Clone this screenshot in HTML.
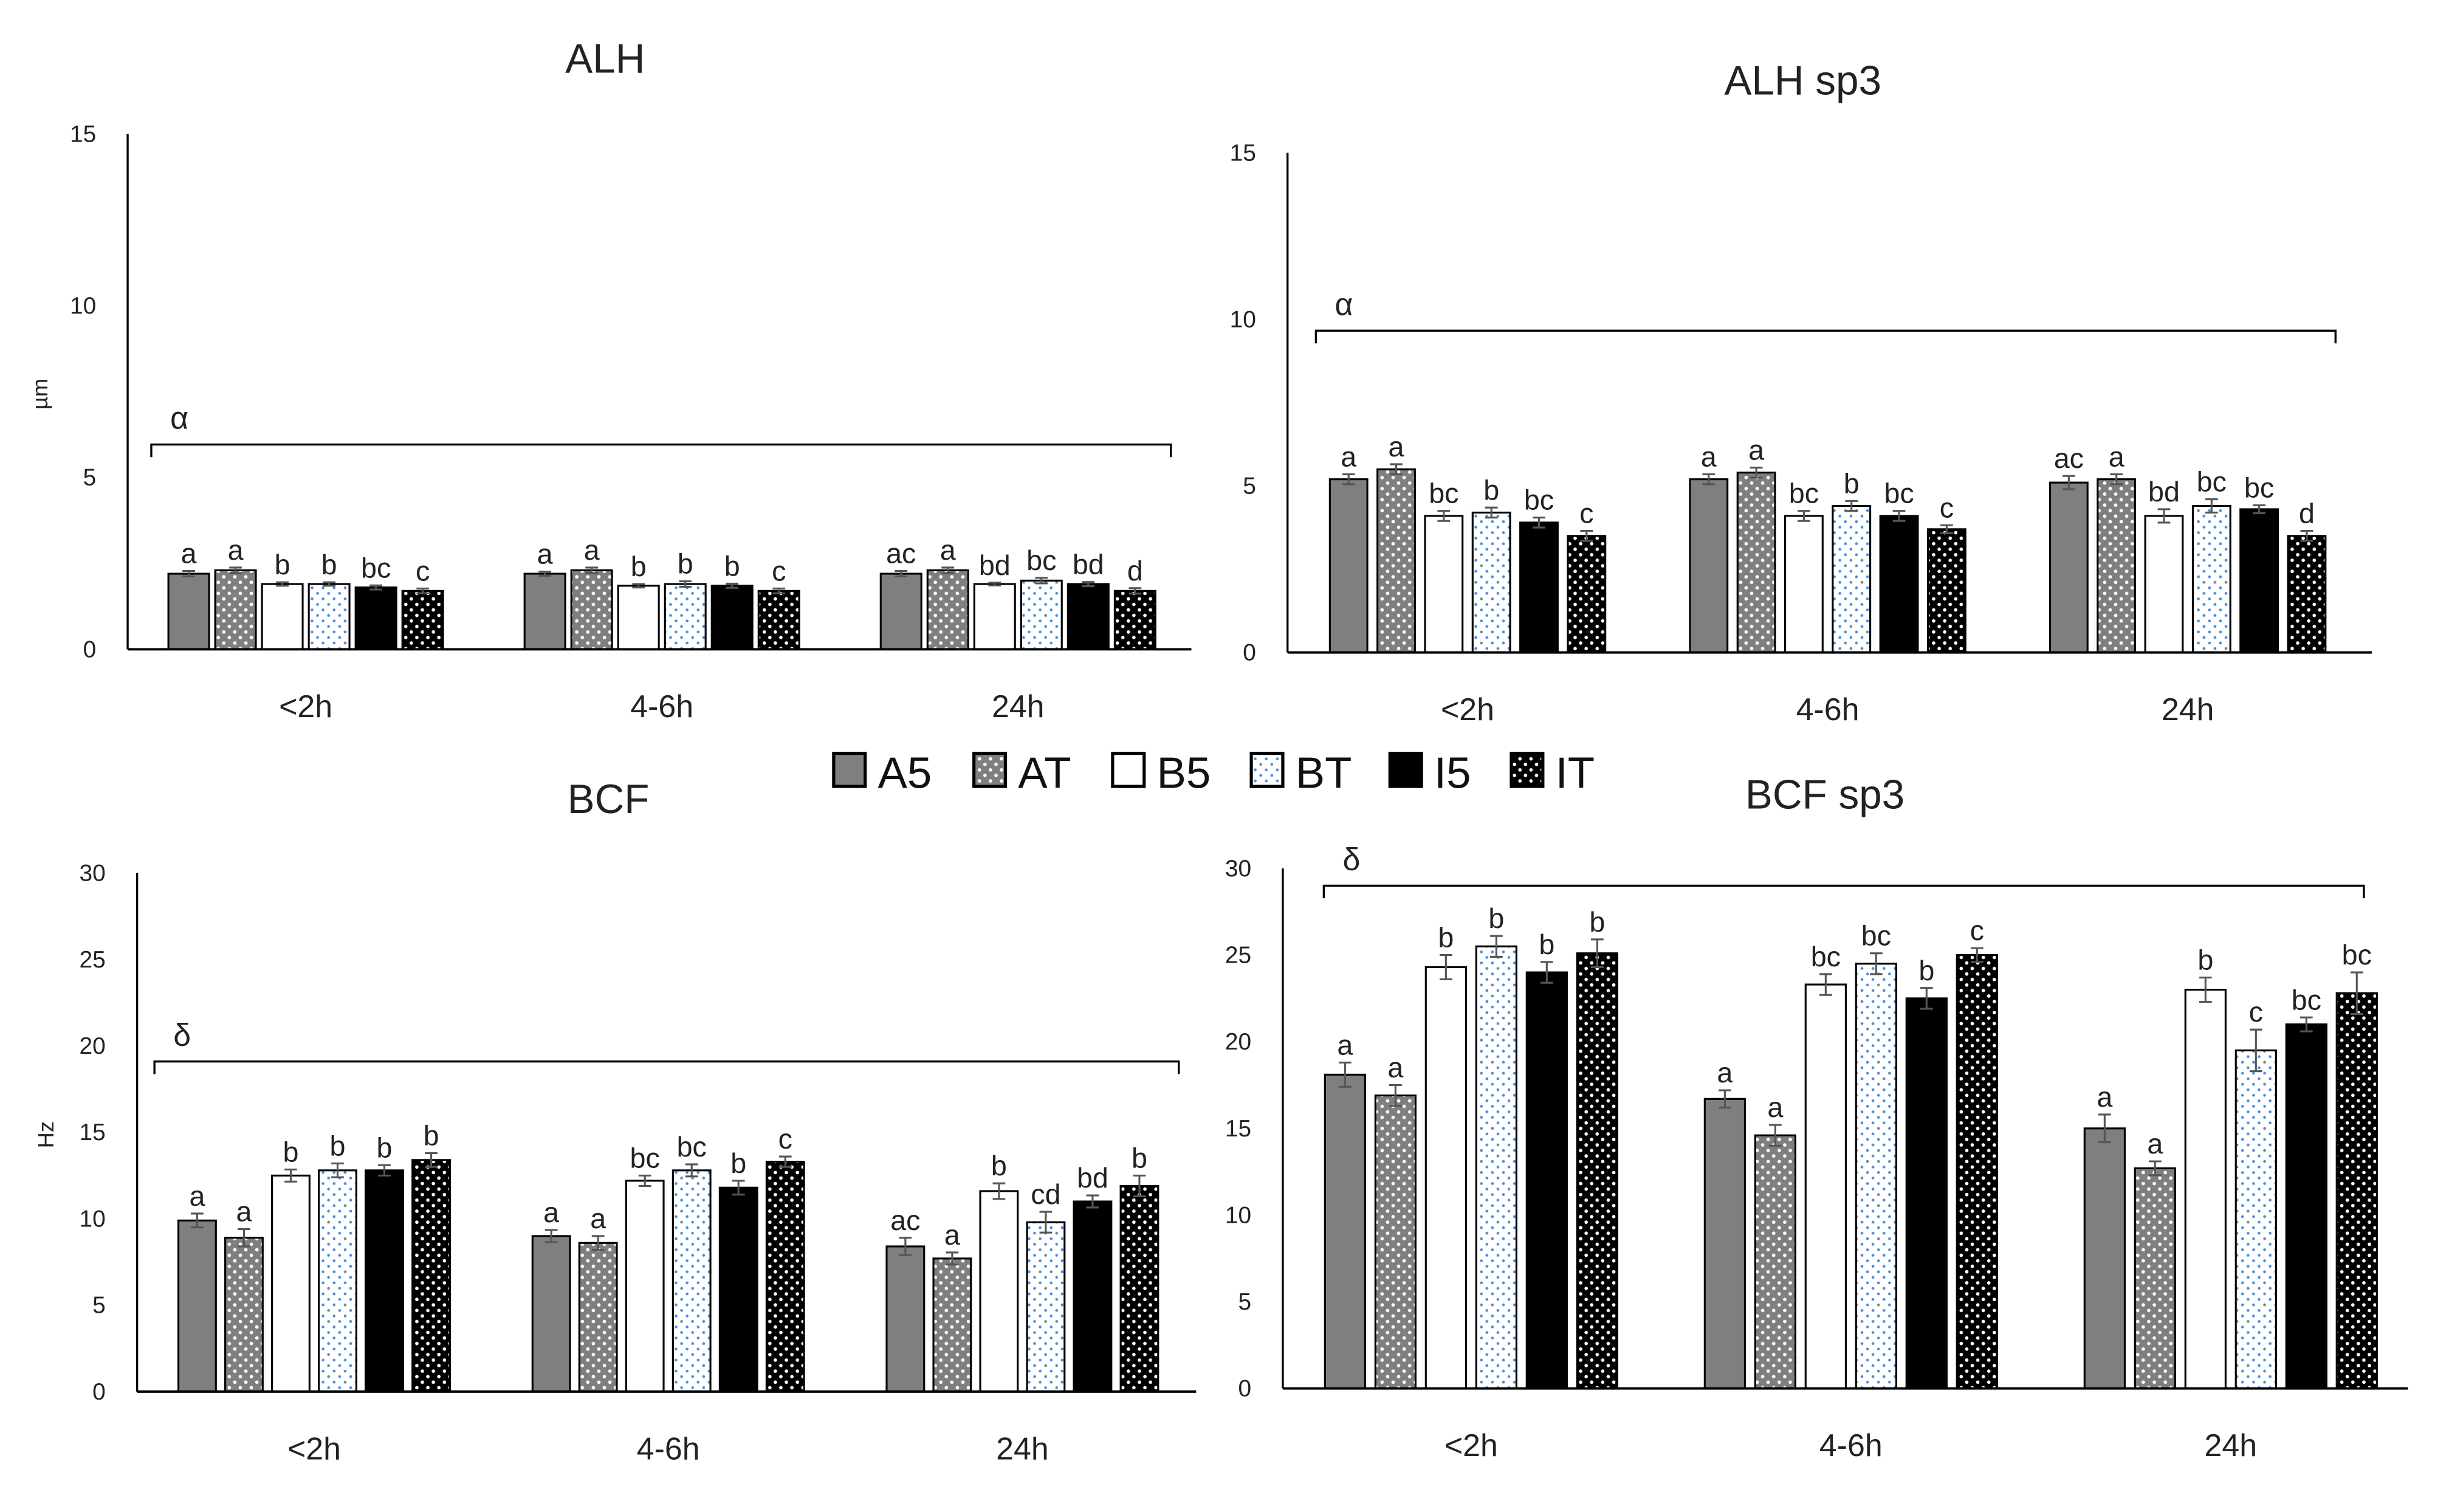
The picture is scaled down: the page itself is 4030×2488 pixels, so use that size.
<!DOCTYPE html>
<html><head><meta charset="utf-8">
<style>
html,body{margin:0;padding:0;background:#fff;}
svg{display:block;font-family:"Liberation Sans","DejaVu Sans",sans-serif;}
</style></head>
<body>
<svg id="fig" xmlns="http://www.w3.org/2000/svg" width="4030" height="2488" viewBox="0 0 1554 959.4">
<defs>
<pattern id="pAT" patternUnits="userSpaceOnUse" width="7" height="7"><rect width="7" height="7" fill="#7f7f7f"/><circle cx="2" cy="2" r="1.1" fill="#fff"/><circle cx="5.5" cy="5.5" r="1.1" fill="#fff"/></pattern>
<pattern id="pBT" patternUnits="userSpaceOnUse" width="7" height="7"><rect width="7" height="7" fill="#fff"/><circle cx="2" cy="2" r="0.9" fill="#4a8fd8"/><circle cx="5.5" cy="5.5" r="0.9" fill="#4a8fd8"/></pattern>
<pattern id="pIT" patternUnits="userSpaceOnUse" width="7" height="7"><rect width="7" height="7" fill="#000"/><circle cx="2" cy="2" r="1.1" fill="#fff"/><circle cx="5.5" cy="5.5" r="1.1" fill="#fff"/></pattern>
</defs>
<g id="legend"></g>
</svg>
<script>
const categories = ["<2h","4-6h","24h"];
const seriesNames = ["A5","AT","B5","BT","I5","IT"];
const alhValues = [[2.2,2.3,1.9,1.9,1.8,1.7],[2.2,2.3,1.85,1.9,1.85,1.7],[2.2,2.3,1.9,2.0,1.9,1.7]];
const alhErrors = [[0.08,0.08,0.05,0.05,0.06,0.07],[0.06,0.08,0.05,0.08,0.06,0.07],[0.08,0.08,0.04,0.08,0.06,0.08]];
const alhLetters = [["a","a","b","b","bc","c"],["a","a","b","b","b","c"],["ac","a","bd","bc","bd","d"]];
const alhSp3Values = [[5.2,5.5,4.1,4.2,3.9,3.5],[5.2,5.4,4.1,4.4,4.1,3.7],[5.1,5.2,4.1,4.4,4.3,3.5]];
const alhSp3Errors = [[0.15,0.15,0.15,0.15,0.15,0.15],[0.15,0.15,0.15,0.15,0.15,0.12],[0.2,0.15,0.2,0.2,0.12,0.15]];
const alhSp3Letters = [["a","a","bc","b","bc","c"],["a","a","bc","b","bc","c"],["ac","a","bd","bc","bc","d"]];
const bcfValues = [[9.9,8.9,12.5,12.8,12.8,13.4],[9.0,8.6,12.2,12.8,11.8,13.3],[8.4,7.7,11.6,9.8,11.0,11.9]];
const bcfErrors = [[0.4,0.5,0.35,0.4,0.3,0.4],[0.35,0.4,0.3,0.35,0.4,0.3],[0.5,0.35,0.45,0.6,0.35,0.6]];
const bcfLetters = [["a","a","b","b","b","b"],["a","a","bc","bc","b","c"],["ac","a","b","cd","bd","b"]];
const bcfSp3Values = [[18.1,16.9,24.3,25.5,24.0,25.1],[16.7,14.6,23.3,24.5,22.5,25.0],[15.0,12.7,23.0,19.5,21.0,22.8]];
const bcfSp3Errors = [[0.7,0.6,0.7,0.6,0.6,0.8],[0.5,0.6,0.6,0.6,0.6,0.4],[0.8,0.4,0.7,1.2,0.4,1.2]];
const bcfSp3Letters = [["a","a","b","b","b","b"],["a","a","bc","bc","b","c"],["a","a","b","c","bc","bc"]];
const ticks15 = [0,5,10,15];
const ticks30 = [0,5,10,15,20,25,30];

const NS="http://www.w3.org/2000/svg";
const svg=document.getElementById('fig');
const fills=["#7f7f7f","url(#pAT)","#fff","url(#pBT)","#000","url(#pIT)"];
function mk(tag,attrs,parent){const e=document.createElementNS(NS,tag);for(const k in attrs)e.setAttribute(k,attrs[k]);(parent||svg).appendChild(e);return e;}

function panel(cfg){
  const g=mk('g',{});
  
  
  const y=v=>cfg.y0-(v/cfg.ymax)*(cfg.y0-cfg.ytop);
  const t=mk('text',{x:cfg.titleX,y:cfg.titleY,'font-size':26,'text-anchor':'middle',fill:'#222'},g);
  t.textContent=cfg.title;
  
  
  if(cfg.ytitle){const yt=mk('text',{x:0,y:0,'font-size':14,'text-anchor':'middle',fill:'#222',transform:`translate(${cfg.ytx},${cfg.yty}) rotate(-90)`},g);yt.textContent=cfg.ytitle;
    
    }
  cfg.ticks.forEach(v=>{const tt=mk('text',{x:cfg.ax-20,y:y(v)+5,'font-size':15,'text-anchor':'end',fill:'#222'},g);tt.textContent=v;
    
    });
  const ya=mk('line',{x1:cfg.ax,y1:cfg.ytop,x2:cfg.ax,y2:cfg.y0,stroke:'#000','stroke-width':1.3},g);
  
  
  const band=cfg.band, pitch=cfg.pitch, bw=cfg.bw, gw=pitch*5+bw;
  cfg.values.forEach((row,ci)=>{
    const cx=cfg.bandStart+band*ci+band/2;
    const cl=mk('text',{x:cx,y:cfg.y0+43,'font-size':20,'text-anchor':'middle',fill:'#222'},g);cl.textContent=categories[ci];
    
    
    row.forEach((v,si)=>{
      const x=cx-gw/2+si*pitch;
      const r=mk('rect',{x:x,y:y(v),width:bw,height:cfg.y0-y(v),fill:fills[si],stroke:'#000','stroke-width':1.2},g);
      
      
      const e=cfg.errors[ci][si], mx=x+bw/2;
      const eb=mk('path',{d:`M${mx},${y(v+e)}V${y(v-e)}M${mx-4},${y(v+e)}H${mx+4}M${mx-4},${y(v-e)}H${mx+4}`,stroke:'#555','stroke-width':1.2,fill:'none'},g);
      
      
      const lt=mk('text',{x:mx,y:y(v+e)-5,'font-size':18,'text-anchor':'middle',fill:'#222'},g);lt.textContent=cfg.letters[ci][si];
      
      
    });
  });
  const xa=mk('line',{x1:cfg.ax,y1:cfg.y0,x2:cfg.axEnd,y2:cfg.y0,stroke:'#000','stroke-width':1.5},g);
  
  
  const by=y(cfg.bracketV);
  const br=mk('path',{d:`M${cfg.bx1},${by+8}V${by}H${cfg.bx2}V${by+8}`,stroke:'#000','stroke-width':1.3,fill:'none'},g);
  
  
  const bs=mk('text',{x:cfg.bx1+12,y:by-10,'font-size':20,fill:'#222'},g);bs.textContent=cfg.sym;
  
  
}

panel({name:'alh-chart',title:'ALH',titleX:384,titleY:46,ytitle:'µm',ytx:30,yty:250,ax:81,axEnd:756,ytop:85,y0:412,ymax:15,ticks:ticks15,bandStart:81,band:226,pitch:29.7,bw:25.8,values:alhValues,errors:alhErrors,letters:alhLetters,bracketV:5.96,bx1:96,bx2:743,sym:'α'});
panel({name:'alh-sp3-chart',title:'ALH sp3',titleX:1144,titleY:60,ax:817,axEnd:1505,ytop:97,y0:414,ymax:15,ticks:ticks15,bandStart:817,band:228.5,pitch:30.2,bw:23.8,values:alhSp3Values,errors:alhSp3Errors,letters:alhSp3Letters,bracketV:9.66,bx1:835,bx2:1482,sym:'α'});
panel({name:'bcf-chart',title:'BCF',titleX:386,titleY:516,ytitle:'Hz',ytx:34,yty:720,ax:87,axEnd:759,ytop:554,y0:883,ymax:30,ticks:ticks30,bandStart:87,band:224.7,pitch:29.7,bw:23.8,values:bcfValues,errors:bcfErrors,letters:bcfLetters,bracketV:19.1,bx1:98,bx2:748,sym:'δ'});
panel({name:'bcf-sp3-chart',title:'BCF sp3',titleX:1158,titleY:513,ax:814,axEnd:1528,ytop:551,y0:881,ymax:30,ticks:ticks30,bandStart:813,band:241,pitch:32,bw:25.5,values:bcfSp3Values,errors:bcfSp3Errors,letters:bcfSp3Letters,bracketV:29.0,bx1:840,bx2:1500,sym:'δ'});

const lg=document.getElementById('legend');
const lx=[529,618,706,794,882,959];
seriesNames.forEach((n,i)=>{
  const r=mk('rect',{x:lx[i],y:478,width:20,height:21,fill:fills[i],stroke:'#000','stroke-width':2},lg);
  
  
  const t=mk('text',{x:lx[i]+28,y:500,'font-size':28,fill:'#111'},lg);t.textContent=n;
  
  
});
</script>
</body></html>
